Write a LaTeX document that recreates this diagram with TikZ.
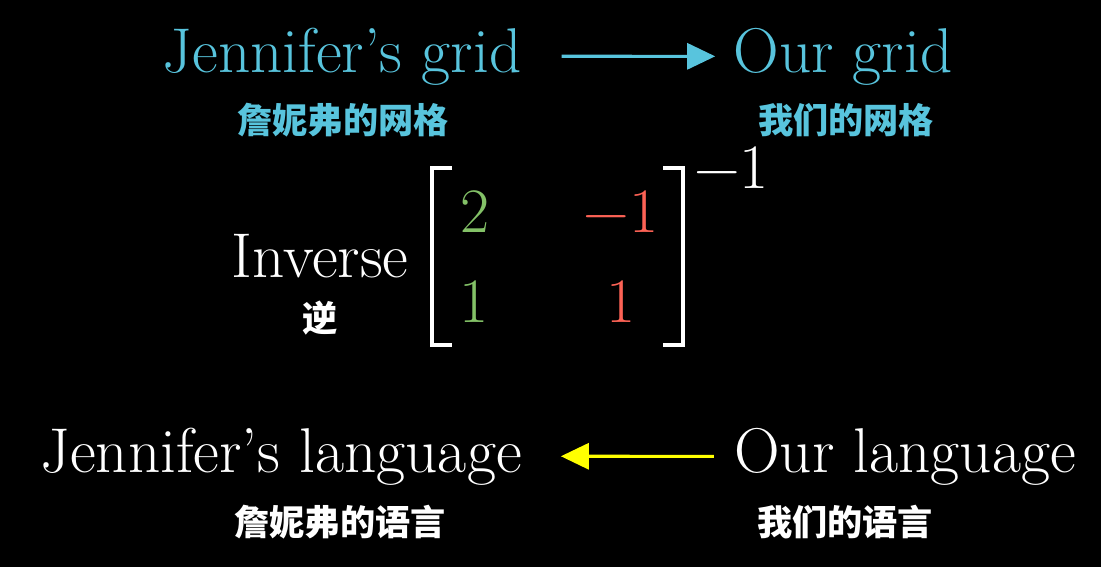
\documentclass[tikz,border=0pt]{standalone}
\usepackage{fontspec}
\newfontfamily\cjk{Noto Sans CJK SC}
\usepackage{tikz}
\usetikzlibrary{arrows.meta}
\definecolor{gridblue}{HTML}{58C4DD}
\definecolor{colgreen}{HTML}{83C167}
\definecolor{colred}{HTML}{FC6255}
\definecolor{langyellow}{HTML}{FFFF00}

\begin{document}
\begin{tikzpicture}[x=0.025cm, y=-0.025cm,
  big/.style={inner sep=0pt, anchor=base, font=\fontsize{45}{54}\selectfont},
  cn/.style={inner sep=0pt, font=\cjk\bfseries\fontsize{25}{30}\selectfont},
  link/.style={-{Triangle[length=0.7cm, width=0.65cm]}, line width=2.2pt},
  brk/.style={white, line width=3pt},
]
\fill[black] (0,0) rectangle (1101,567);
\useasboundingbox (0,0) rectangle (1101,567);

% Grids
\node[big, gridblue] (jgrid) at (342,72) {Jennifer's grid};
\node[big, gridblue] (ogrid) at (843,72) {Our grid};
\node[cn, gridblue] (jgridcn) at (343,120) {詹妮弗的网格};
\node[cn, gridblue] (ogridcn) at (846,120) {我们的网格};
\draw[link, gridblue, shorten <=1.0cm, shorten >=0.45cm] (jgrid.east) -- (ogrid.west);

% Inverse matrix
\node[big, white] (inv) at (320,277) {Inverse};
\node[cn, white] (invcn) at (320,318) {逆};
\node[big, colgreen] (m11) at (475,232) {2};
\node[big, colred] (m12) at (621,232) {−1};
\node[big, colgreen] (m21) at (474,322) {1};
\node[big, colred] (m22) at (621,322) {1};
\node[big, white, anchor=base west] (minv) at (694,188) {−1};
\draw[brk] (452,168) -- (432,168) -- (432,345) -- (452,345);
\draw[brk] (663,168) -- (683,168) -- (683,345) -- (663,345);

% Languages
\node[big, white] (jlang) at (281,472) {Jennifer's language};
\node[big, white] (olang) at (905,472) {Our language};
\node[cn, white] (jlangcn) at (340,522) {詹妮弗的语言};
\node[cn, white] (olangcn) at (845,522) {我们的语言};
\draw[link, langyellow, shorten <=0.5cm, shorten >=0.97cm] (olang.west) -- (jlang.east);
\end{tikzpicture}
\end{document}
